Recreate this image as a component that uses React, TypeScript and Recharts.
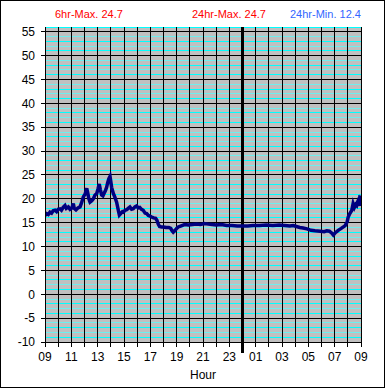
import React from 'react';
import { ComposedChart, Line, XAxis, YAxis, CartesianGrid, ReferenceLine, Label } from 'recharts';

const hours = [
  0.0, 0.12, 0.25, 0.38, 0.5, 0.62, 0.76, 0.88, 1.0, 1.14, 1.25, 1.38, 1.52, 1.62, 1.77, 1.9,
  2.05, 2.15, 2.22, 2.35, 2.5, 2.66, 2.78, 2.91, 3.05, 3.17, 3.25, 3.33, 3.42, 3.55, 3.67, 3.8,
  3.93, 4.02, 4.12, 4.2, 4.3, 4.4, 4.5, 4.6, 4.68, 4.76, 4.85, 4.94, 5.0, 5.06, 5.19, 5.3,
  5.44, 5.57, 5.65, 5.75, 5.88, 5.95, 6.08, 6.2, 6.32, 6.45, 6.58, 6.7, 6.83, 6.96, 7.08, 7.2,
  7.33, 7.46, 7.6, 7.72, 7.85, 7.97, 8.1, 8.25, 8.4, 8.5, 8.6, 8.7, 8.85, 9.0, 9.2, 9.4,
  9.55, 9.65, 9.74, 9.85, 10.0, 10.12, 10.3, 10.6, 10.9, 11.2, 11.5, 11.8, 12.1, 12.4, 12.7, 13.0,
  13.4, 13.8, 14.2, 14.6, 15.06, 15.4, 15.8, 16.3, 16.8, 17.3, 17.8, 18.2, 18.6, 18.85, 19.1, 19.35,
  19.6, 19.9, 20.2, 20.5, 20.9, 21.2, 21.4, 21.6, 21.75, 21.9, 22.05, 22.27, 22.5, 22.8, 22.95, 23.03,
  23.15, 23.3, 23.4, 23.5, 23.6, 23.67, 23.75, 23.8, 23.87, 23.92,
];

const temps = [
  16.5, 16.9, 16.7, 17.2, 17.0, 17.5, 17.6, 17.3, 17.8, 17.9, 17.6, 18.2, 18.6, 18.0, 18.3, 17.8,
  18.1, 19.0, 18.0, 17.7, 18.1, 18.3, 19.2, 20.4, 21.0, 22.2, 21.2, 20.0, 19.3, 19.6, 20.0, 20.8,
  21.1, 22.0, 23.1, 22.0, 20.8, 20.6, 21.2, 21.8, 22.4, 23.4, 24.2, 24.7, 23.6, 22.4, 21.1, 20.4,
  19.3, 17.6, 16.6, 16.9, 17.3, 17.2, 17.6, 17.7, 18.0, 18.3, 17.8, 17.9, 18.3, 18.5, 18.1, 18.2,
  17.8, 17.6, 17.0, 16.9, 16.5, 16.4, 16.2, 16.0, 15.9, 15.5, 14.7, 14.2, 14.1, 14.1, 14.0, 14.0,
  13.8, 13.3, 13.0, 13.3, 13.8, 14.1, 14.3, 14.6, 14.5, 14.6, 14.7, 14.6, 14.8, 14.7, 14.6, 14.5,
  14.6, 14.4, 14.4, 14.3, 14.3, 14.3, 14.4, 14.4, 14.5, 14.4, 14.5, 14.4, 14.3, 14.4, 14.2, 14.0,
  13.9, 13.7, 13.4, 13.3, 13.2, 13.1, 13.3, 13.2, 12.9, 12.4, 12.9, 13.4, 13.8, 14.4, 15.2, 16.2,
  16.9, 17.6, 19.0, 18.2, 18.8, 18.6, 19.4, 19.7, 18.5, 20.7,
];

const xTicks = Array.from({ length: 25 }, (_, i) => i);
const yTicks = [-10, -5, 0, 5, 10, 15, 20, 25, 30, 35, 40, 45, 50, 55];
const minorY = Array.from({ length: 66 }, (_, i) => i - 9).filter((v) => v % 5 !== 0);
const startHour = 9;
const midnight = 15;

const titles = [
  { text: '6hr-Max. 24.7', color: '#ff0000', left: 55 },
  { text: '24hr-Max. 24.7', color: '#ff0000', left: 192 },
  { text: '24hr-Min. 12.4', color: '#3366ff', left: 290 },
];

const data = hours.map((h, i) => ({ h, t: temps[i] }));

const fmtHour = (v: number) =>
  v % 2 === 0 ? String((startHour + v) % 24).padStart(2, '0') : '';

const minorColor = (v: number) => {
  const m = ((v % 5) + 5) % 5;
  return m === 1 || m === 3 ? '#00ffff' : '#70eeee';
};

const FONT = '"Liberation Sans", Arial, sans-serif';

export default function App() {
  return (
    <div
      style={{
        position: 'absolute',
        left: 0,
        top: 0,
        width: 385,
        height: 388,
        boxSizing: 'border-box',
        border: '1px solid #000',
        background: '#fff',
        fontFamily: FONT,
        overflow: 'hidden',
      }}
    >
      {titles.map((t) => (
        <div
          key={t.text}
          style={{
            position: 'absolute',
            left: t.left - 1,
            top: 7,
            color: t.color,
            fontSize: 11,
            whiteSpace: 'nowrap',
          }}
        >
          {t.text}
        </div>
      ))}
      <div style={{ position: 'absolute', left: -1, top: -1 }}>
        <ComposedChart
          width={385}
          height={388}
          data={data}
          margin={{ top: 27, right: 24, bottom: 0, left: 0 }}
          style={{ fontFamily: FONT }}
        >
          <CartesianGrid fill="#c0c0c0" horizontal={false} vertical={false} />
          {minorY.map((v) => (
            <ReferenceLine
              key={'m' + v}
              y={v}
              stroke={minorColor(v)}
              strokeWidth={1}
              shapeRendering="crispEdges"
            />
          ))}
          {yTicks.map((v) => (
            <ReferenceLine key={'y' + v} y={v} stroke="#000" strokeWidth={1} shapeRendering="crispEdges" />
          ))}
          {xTicks.map((v) => (
            <ReferenceLine
              key={'x' + v}
              x={v}
              stroke="#000"
              strokeWidth={v === midnight ? 3 : 1}
              shapeRendering="crispEdges"
            />
          ))}
          <ReferenceLine
            segment={[{ x: midnight, y: -10 }, { x: midnight, y: -12.3 }]}
            stroke="#000"
            strokeWidth={3}
            ifOverflow="visible"
            shapeRendering="crispEdges"
          />
          <XAxis
            type="number"
            dataKey="h"
            domain={[0, 24]}
            ticks={xTicks}
            interval={0}
            tickFormatter={fmtHour}
            axisLine={{ stroke: '#000', shapeRendering: 'crispEdges' }}
            tickLine={{ stroke: '#000', shapeRendering: 'crispEdges' }}
            tickSize={5}
            tickMargin={5}
            height={46}
            tick={{ fill: '#000', fontSize: 12, fontFamily: FONT }}
            allowDataOverflow
          >
            <Label value="Hour" position="insideBottom" offset={9} fill="#000" fontSize={12} fontFamily={FONT} />
          </XAxis>
          <YAxis
            type="number"
            domain={[-10, 56]}
            ticks={yTicks}
            interval={0}
            width={45}
            axisLine={{ stroke: '#000', shapeRendering: 'crispEdges' }}
            tickLine={{ stroke: '#000', shapeRendering: 'crispEdges' }}
            tickSize={4}
            tickMargin={6}
            tick={{ fill: '#000', fontSize: 12, fontFamily: FONT }}
            allowDataOverflow
          />
          <Line
            dataKey="t"
            type="linear"
            stroke="#000080"
            strokeWidth={3.5}
            dot={false}
            isAnimationActive={false}
          />
        </ComposedChart>
      </div>
    </div>
  );
}
